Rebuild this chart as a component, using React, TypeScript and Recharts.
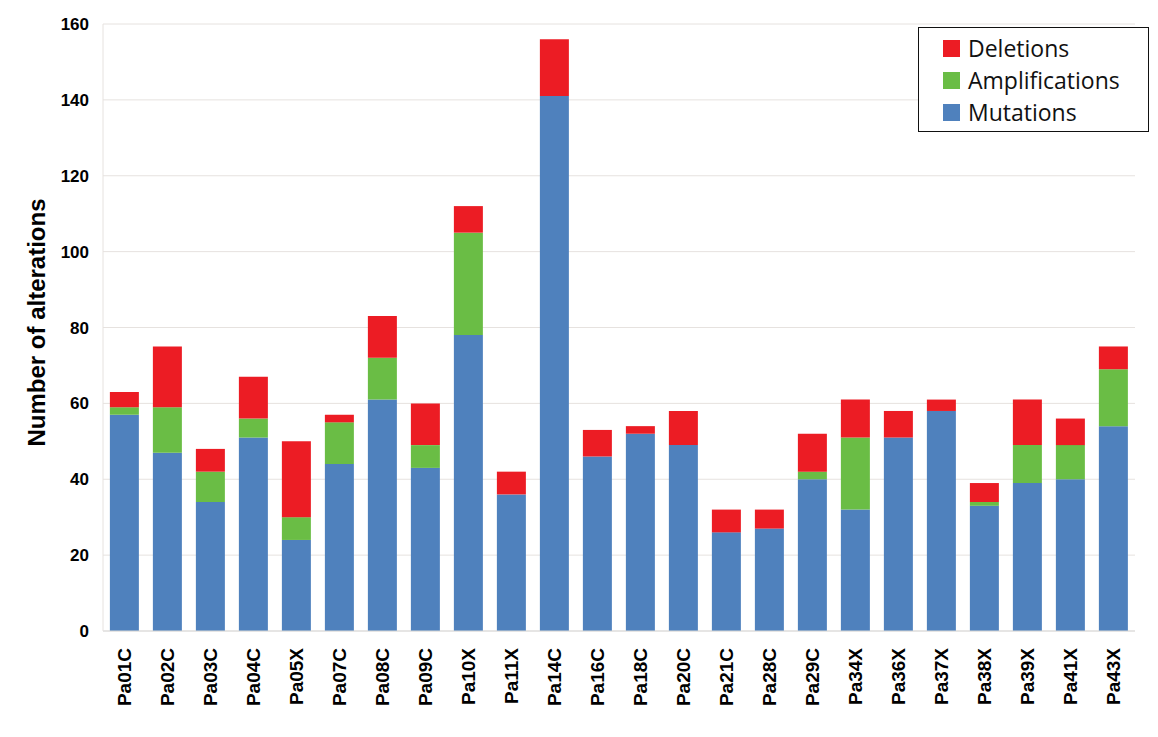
import React from "react";
import { BarChart, Bar, XAxis, YAxis, CartesianGrid } from "recharts";

const samples = [
  "Pa01C", "Pa02C", "Pa03C", "Pa04C", "Pa05X", "Pa07C", "Pa08C", "Pa09C",
  "Pa10X", "Pa11X", "Pa14C", "Pa16C", "Pa18C", "Pa20C", "Pa21C", "Pa28C",
  "Pa29C", "Pa34X", "Pa36X", "Pa37X", "Pa38X", "Pa39X", "Pa41X", "Pa43X",
];
const mutations = [57, 47, 34, 51, 24, 44, 61, 43, 78, 36, 141, 46, 52, 49, 26, 27, 40, 32, 51, 58, 33, 39, 40, 54];
const amplifications = [2, 12, 8, 5, 6, 11, 11, 6, 27, 0, 0, 0, 0, 0, 0, 0, 2, 19, 0, 0, 1, 10, 9, 15];
const deletions = [4, 16, 6, 11, 20, 2, 11, 11, 7, 6, 15, 7, 2, 9, 6, 5, 10, 10, 7, 3, 5, 12, 7, 6];
const yTicks = [0, 20, 40, 60, 80, 100, 120, 140, 160];

const COLORS = {
  Deletions: "#ec1c24",
  Amplifications: "#6abd45",
  Mutations: "#4f81bd",
};

const data = samples.map((name, i) => ({
  name,
  Mutations: mutations[i],
  Amplifications: amplifications[i],
  Deletions: deletions[i],
}));

const FONT = "'Liberation Sans', Arial, sans-serif";

function XTick({ x, y, payload }: any) {
  return (
    <g transform={`translate(${x},${y})`}>
      <text
        transform="rotate(-90)"
        x={-9}
        y={0}
        dy="0.36em"
        textAnchor="end"
        fontFamily={FONT}
        fontWeight="bold"
        fontSize={19}
        fill="#000"
      >
        {payload.value}
      </text>
    </g>
  );
}

function LegendBox() {
  const rows = ["Deletions", "Amplifications", "Mutations"] as const;
  return (
    <div
      style={{
        position: "absolute",
        left: 918,
        top: 27,
        width: 231,
        height: 105,
        border: "1.5px solid #111",
        background: "#fff",
        boxSizing: "border-box",
        padding: "4px 0 0 24px",
        fontFamily: "'Open Sans', sans-serif",
        fontSize: 23,
        color: "#111",
      }}
    >
      {rows.map((r) => (
        <div key={r} style={{ display: "flex", alignItems: "center", height: 32 }}>
          <span style={{ width: 17, height: 17, background: COLORS[r], marginRight: 8 }} />
          <span>{r}</span>
        </div>
      ))}
    </div>
  );
}

export default function App() {
  return (
    <div style={{ position: "absolute", left: 0, top: 0, width: 1158, height: 737, background: "#fff" }}>
      <BarChart
        width={1158}
        height={737}
        data={data}
        margin={{ top: 24, right: 23, bottom: 16, left: 43 }}
        barCategoryGap="16%"
      >
        <CartesianGrid vertical={false} stroke="#e6e2df" />
        <XAxis
          dataKey="name"
          interval={0}
          height={90}
          tickLine={false}
          axisLine={{ stroke: "#d9d9d9" }}
          tick={<XTick />}
        />
        <YAxis
          width={60}
          domain={[0, 160]}
          ticks={yTicks}
          tickLine={false}
          axisLine={{ stroke: "#e6e2df" }}
          tickMargin={8}
          tick={{ fontFamily: FONT, fontWeight: "bold", fontSize: 17, fill: "#000" }}
          label={{
            value: "Number of alterations",
            angle: -90,
            position: "insideLeft",
            dx: -12,
            dy: -5,
            style: { fontFamily: FONT, fontWeight: "bold", fontSize: 24, fill: "#000", textAnchor: "middle" },
          }}
        />
        <Bar dataKey="Mutations" stackId="a" fill={COLORS.Mutations} isAnimationActive={false} />
        <Bar dataKey="Amplifications" stackId="a" fill={COLORS.Amplifications} isAnimationActive={false} />
        <Bar dataKey="Deletions" stackId="a" fill={COLORS.Deletions} isAnimationActive={false} />
      </BarChart>
      <LegendBox />
    </div>
  );
}
